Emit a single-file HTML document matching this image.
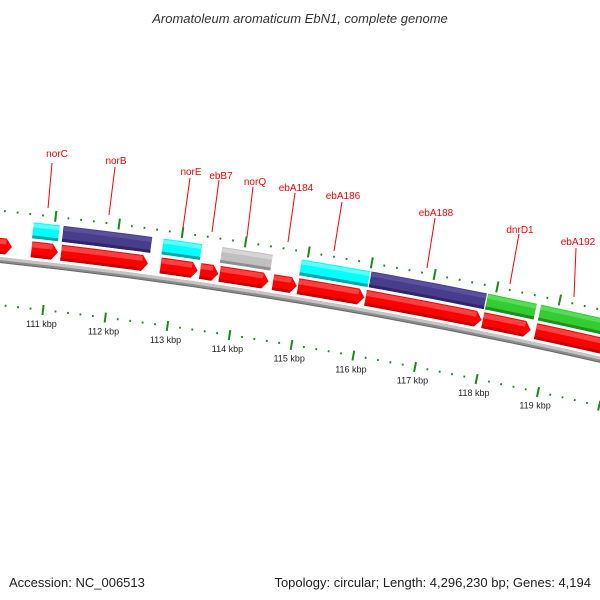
<!DOCTYPE html>
<html><head><meta charset="utf-8"><style>
html,body{margin:0;padding:0;background:#fff;width:600px;height:600px;overflow:hidden}
svg{display:block;font-family:"Liberation Sans","DejaVu Sans",sans-serif}
</style></head><body>
<svg id="map" width="600" height="600" viewBox="0 0 600 600">
<text x="300" y="23" text-anchor="middle" font-size="13" font-style="italic" fill="#333">Aromatoleum aromaticum EbN1, complete genome</text>
<text x="9" y="587" font-size="13" fill="#222">Accession: NC_006513</text>
<text x="591" y="587" text-anchor="end" font-size="13" fill="#222">Topology: circular; Length: 4,296,230 bp; Genes: 4,194</text>
<g id="layer"></g>
</svg>
<script>
// forward-strand CDS (red ring), kbp
const fwdStarts = [109.56, 110.71, 111.18, 112.76, 113.39, 113.70, 114.55, 114.95, 116.03, 117.91, 118.76];
const fwdEnds   = [110.42, 111.15, 112.58, 113.37, 113.70, 114.50, 114.95, 116.03, 117.91, 118.70, 120.71];
// feature ring (coloured)
const featStarts = [110.70, 111.17, 112.75, 113.68, 114.94, 116.05, 117.91, 118.76];
const featEnds   = [111.13, 112.59, 113.38, 114.50, 116.05, 117.91, 118.71, 120.65];
const featTypes  = ['cyan','blue','cyan','gray','cyan','blue','green','green'];
// ruler
const tickKbp = [108,109,110,111,112,113,114,115,116,117,118,119];
const tickLabels = ['108 kbp','109 kbp','110 kbp','111 kbp','112 kbp','113 kbp','114 kbp','115 kbp','116 kbp','117 kbp','118 kbp','119 kbp'];
// gene labels
const geneNames = ['norC','norB','norE','ebB7','norQ','ebA184','ebA186','ebA188','dnrD1','ebA192'];

const NS='http://www.w3.org/2000/svg';
const layer=document.getElementById('layer');
function circ(p1,p2,p3){
  const [ax,ay]=p1,[bx,by]=p2,[cx,cy]=p3;
  const d=2*(ax*(by-cy)+bx*(cy-ay)+cx*(ay-by));
  const ux=((ax*ax+ay*ay)*(by-cy)+(bx*bx+by*by)*(cy-ay)+(cx*cx+cy*cy)*(ay-by))/d;
  const uy=((ax*ax+ay*ay)*(cx-bx)+(bx*bx+by*by)*(ax-cx)+(cx*cx+cy*cy)*(bx-ax))/d;
  return [ux,uy,Math.hypot(ax-ux,ay-uy)];
}
const [CX,CY,RL]=circ([43,310],[292,345],[538,392]);
const R0=RL+48;
function ang(x,y){return Math.atan2(x-CX,CY-y);}
const A0=ang(43,310), DA=(ang(538,392)-A0)/8;
function a(k){return A0+(k-111)*DA;}
function P(k,r){const t=a(k);return [CX+r*Math.sin(t),CY-r*Math.cos(t)];}
function f(p){return p[0].toFixed(2)+' '+p[1].toFixed(2);}
function mk(tag,attrs){const e=document.createElementNS(NS,tag);for(const k in attrs)e.setAttribute(k,attrs[k]);layer.appendChild(e);return e;}
function band(k1,k2,r1,r2){
  return 'M'+f(P(k1,r2))+' A'+r2+' '+r2+' 0 0 1 '+f(P(k2,r2))+' L'+f(P(k2,r1))+' A'+r1+' '+r1+' 0 0 0 '+f(P(k1,r1))+' Z';
}
function arrow(k1,k2,r1,r2){
  const rm=(r1+r2)/2, h=6/(rm*DA); const kb=Math.max(k1,k2-h);
  return 'M'+f(P(k1,r2))+' A'+r2+' '+r2+' 0 0 1 '+f(P(kb,r2))+' L'+f(P(k2,rm))+' L'+f(P(kb,r1))+' A'+r1+' '+r1+' 0 0 0 '+f(P(k1,r1))+' Z';
}
let e=mk('path',{d:band(100,130,R0-6,R0),fill:'#8c8c8c'});


mk('path',{d:band(100,130,R0-3,R0),fill:'#c4c4c4'});
mk('path',{d:band(100,130,R0-6,R0-5),fill:'#6a6a6a'});

for(let i=0;i<fwdStarts.length;i++){
  const s=fwdStarts[i],t=fwdEnds[i]-0.02;
  e=mk('path',{d:arrow(s,t,R0+3,R0+19),fill:'#f00'});
  
  
  mk('path',{d:band(s,Math.max(s,t-6/(R0*DA)),R0+13,R0+18),fill:'#ff5050',opacity:0.8});
  mk('path',{d:band(s,Math.max(s,t-6/(R0*DA)),R0+3,R0+6),fill:'#b80000',opacity:0.8});
}
const col={cyan:['#00ffff','#60ffff','#00a8a8'],blue:['#483d8b','#5a50a0','#2e2666'],gray:['#c0c0c0','#d6d6d6','#8e8e8e'],green:['#33cc33','#55dd55','#1f8f1f']};
for(let i=0;i<featStarts.length;i++){
  const s=featStarts[i],t=featEnds[i]-0.02,c=col[featTypes[i]];
  e=mk('path',{d:band(s,t,R0+22,R0+38),fill:c[0]});
  
  
  mk('path',{d:band(s,t,R0+33,R0+37),fill:c[1]});
  mk('path',{d:band(s,t,R0+22,R0+25),fill:c[2]});
}
for(let k=107;k<=122.001;k+=0.2){
  const kk=Math.round(k*10)/10, major=Math.abs(kk-Math.round(kk))<1e-6;
  const w=major?2:1.8;
  const lr=major?[R0-53,R0-43]:[R0-49,R0-47];
  e=mk('line',{x1:P(kk,lr[0])[0],y1:P(kk,lr[0])[1],x2:P(kk,lr[1])[0],y2:P(kk,lr[1])[1],stroke:'#1a8a1a','stroke-width':w});
  
  
  const ku=kk+0.03;
  const ur=major?[R0+41,R0+52]:[R0+45,R0+47];
  e=mk('line',{x1:P(ku,ur[0])[0],y1:P(ku,ur[0])[1],x2:P(ku,ur[1])[0],y2:P(ku,ur[1])[1],stroke:'#1a8a1a','stroke-width':w});
  
  
}
for(let i=0;i<tickKbp.length;i++){
  const p=P(tickKbp[i],R0-62);
  e=mk('text',{x:p[0],y:p[1]+3,'text-anchor':'middle','font-size':'9',fill:'#222'});
  e.textContent=tickLabels[i];
  
  
}
const lab=[[57,157,48,208,52,163],[116,164,109,215,115,167],[191,175,183,228,190,178],[221,179,212,232,219,180],[255,185,247,237,253,187],[296,191,288,242,295,193],[343,199,334,251,342,202],[436,216,427,268,435,218],[520,233,510,284,519,234],[578,245,574,297,576,248]];
for(let i=0;i<geneNames.length;i++){
  const L=lab[i];
  e=mk('line',{x1:L[2],y1:L[3],x2:L[4],y2:L[5],stroke:'#f00','stroke-width':1});
  
  
  e=mk('text',{x:L[0],y:L[1],'text-anchor':'middle','font-size':'10',fill:'#f00'});
  e.textContent=geneNames[i];
  
  
}
</script>
</body></html>
